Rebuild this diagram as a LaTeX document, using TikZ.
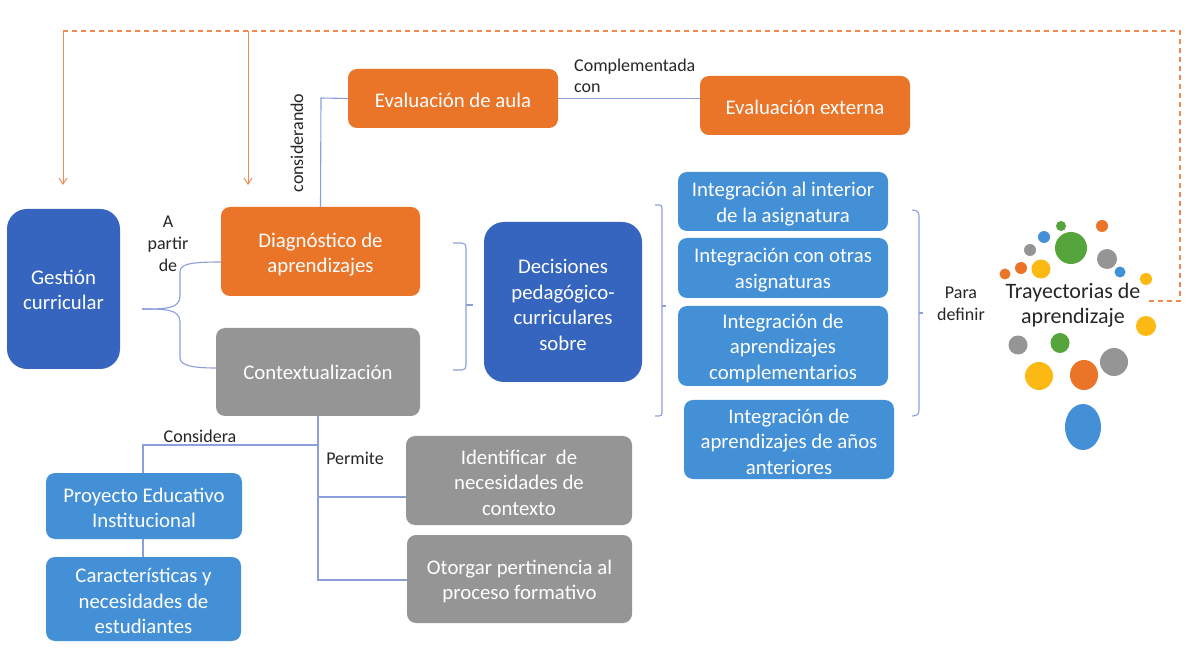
\documentclass[tikz,border=0pt]{standalone}
\usepackage{fontspec}
\setmainfont{Carlito}
\usetikzlibrary{arrows.meta}
\definecolor{cor}{HTML}{EA7428}
\definecolor{cdb}{HTML}{3565BE}
\definecolor{clb}{HTML}{4490D6}
\definecolor{cgr}{HTML}{959595}
\definecolor{cyl}{HTML}{FDB913}
\definecolor{cgn}{HTML}{55A53C}
\definecolor{cln}{HTML}{8C9FDA}
\definecolor{cda}{HTML}{F08A50}
\newcommand{\dnr}[1]{\rule{0pt}{#1pt}}
\tikzset{
 bx/.style={rectangle,rounded corners=9pt,text=white,align=center,inner sep=0pt,font=\fontsize{20.8}{25.5}\selectfont},
 big/.style={bx,rounded corners=20pt},
 lab/.style={inner sep=0pt,align=center,text=black!85,font=\fontsize{18}{22}\selectfont},
 con/.style={draw=cln,line width=1.1pt},
 dsh/.style={draw=cda,line width=1.3pt,dash pattern=on 5pt off 4pt},
 arr/.style={draw=cda,line width=1pt,-{Straight Barb[length=6pt,width=8pt]}},
 dot/.style={fill=#1,draw=none},
}
\begin{document}
\begin{tikzpicture}[x=1pt,y=-1pt]
\useasboundingbox (0,0) rectangle (1195,660);
\fill[white] (0,0) rectangle (1195,660);
% boxes
\node[big,fill=cdb,minimum width=113pt,minimum height=160pt] (ges) at (63.5,289) {\dnr{16}Gestión\\curricular};
\node[bx,fill=cor,minimum width=199pt,minimum height=89pt] (dia) at (320.5,251.5) {\dnr{21}Diagnóstico de\\aprendizajes};
\node[bx,fill=cgr,minimum width=204pt,minimum height=88pt] (ctx) at (318,372) {Contextualización};
\node[bx,fill=cor,minimum width=210pt,minimum height=59pt] (eva) at (453,98.5) {\dnr{18}Evaluación de aula};
\node[bx,fill=cor,minimum width=210pt,minimum height=59pt] (ext) at (805,105.5) {\dnr{18}Evaluación externa};
\node[big,fill=cdb,minimum width=158pt,minimum height=160pt] (dec) at (563,302) {\dnr{20}Decisiones\\pedagógico-\\curriculares\\sobre};
\node[bx,fill=clb,minimum width=210pt,minimum height=59pt] (in1) at (783,201.5) {\dnr{20}Integración al interior\\de la asignatura};
\node[bx,fill=clb,minimum width=210pt,minimum height=60pt] (in2) at (783,268) {\dnr{18.5}Integración con otras\\asignaturas};
\node[bx,fill=clb,minimum width=210pt,minimum height=80pt] (in3) at (783,346) {\dnr{19}Integración de\\aprendizajes\\complementarios};
\node[bx,fill=clb,minimum width=210pt,minimum height=79pt] (in4) at (789,439.5) {\dnr{18.5}Integración de\\aprendizajes de años\\anteriores};
\node[bx,fill=clb,minimum width=196pt,minimum height=66pt] (pei) at (144,506) {\dnr{18.5}Proyecto Educativo\\Institucional};
\node[bx,fill=clb,minimum width=195pt,minimum height=84pt] (car) at (143.5,599) {\dnr{18.5}Características y\\necesidades de\\estudiantes};
\node[bx,fill=cgr,minimum width=226pt,minimum height=89pt] (ide) at (519,480.5) {\dnr{18.5}Identificar\ \ de\\necesidades de\\contexto};
\node[bx,fill=cgr,minimum width=225pt,minimum height=88pt] (oto) at (519.5,579) {\dnr{19}Otorgar pertinencia al\\proceso formativo};
% dots
\foreach \x/\y/\rx/\ry/\c in {1071/248/16/16/cgn,1061/226/5/5/cgn,1102/226/6/6/cor,1044/237/6/6/clb,1030/250/6/6/cgr,1107/259/10/10/cgr,1120/272/5.5/5.5/clb,1021/268/6/6/cor,1005/274/5.5/5.5/cor,1041/269/9.5/9.5/cyl,1146/279/6/6/cyl,1146/326/10/10/cyl,1018/345/9.5/9.5/cgr,1060/343/9.5/10/cgn,1114/362/14/14/cgr,1084/375/14/15/cor,1039/376/14/14/cyl,1083/427/18/23/clb}
  {\fill[dot=\c] (\x,\y) ellipse [x radius=\rx pt,y radius=\ry pt];}
% traj
\node[inner sep=0pt,align=center,text=black!85,font=\fontsize{22}{25}\selectfont] (tra) at (1073,305.5) {Trayectorias de\\aprendizaje};
% labels
\node[lab,anchor=west] (lc1) at (574,66.5) {Complementada};
\node[lab,anchor=west] (lc2) at (574,88) {con};
\node[lab,rotate=90] (lcn) at (297,143) {considerando};
\node[lab] (lap) at (168,243.5) {A\\partir\\de};
\node[lab] (lcs) at (200,436) {Considera};
\node[lab] (lpe) at (355,458) {Permite};
\node[lab] (lpd) at (961,303.5) {Para\\definir};
% coordinates
\coordinate (d0) at (1149,301);
\coordinate (d1) at (1180,301);
\coordinate (d2) at (1180,31);
\coordinate (d3) at (63,31);
\coordinate (d4) at (248,31);
\coordinate (a1) at (63,185);
\coordinate (a2) at (248,185);
\coordinate (ev) at (321,98);
\coordinate (cv) at (318,445);
\coordinate (cl) at (143,445);
\coordinate (pt) at (143,473);
\coordinate (pb) at (143,539);
\coordinate (ct) at (143,557);
\coordinate (b1) at (318,497);
\coordinate (b2) at (318,580);
% connectors
\draw[dsh] (d0) -- (d1) -- (d2) -- (d3);
\draw[arr] (d3) -- (a1);
\draw[arr] (d4) -- (a2);
\draw[con] (dia.north) -- (ev) -- (eva.west);
\draw[con] (eva.east) -- (ext.west |- eva.east);
\draw[con] (ctx.south) -- (b2) -- (oto.west |- b2);
\draw[con] (b1) -- (ide.west |- b1);
\draw[con] (cv) -- (cl) -- (pt);
\draw[con] (pb) -- (ct);
% braces
\coordinate (g0) at (142,309);
\draw[con] (g0) .. controls (165,309) and (180,309) .. (180,296) -- (180,272) .. controls (180,264) and (190,262) .. (dia.west |- 0,262);
\draw[con] (g0) .. controls (165,309) and (180,309) .. (180,322) -- (180,358) .. controls (180,366) and (195,368) .. (ctx.west |- 0,368);
\draw[con] (453,243) -- (462,243) .. controls (465,243) and (466,245) .. (466,248) -- (466,365) .. controls (466,368) and (465,370) .. (462,370) -- (453,370);
\draw[con] (466,305) -- (473,305);
\draw[con] (655,205) -- (659,205) .. controls (661,205) and (662,206) .. (662,208) -- (662,413) .. controls (662,415) and (661,416) .. (659,416) -- (655,416);
\draw[con] (662,306) -- (666,306);
\draw[con] (912,210) .. controls (917,210) and (919,212) .. (919,216) -- (919,410) .. controls (919,414) and (917,416) .. (912,416);
\draw[con] (919,313) -- (923,313);
\end{tikzpicture}
\end{document}
